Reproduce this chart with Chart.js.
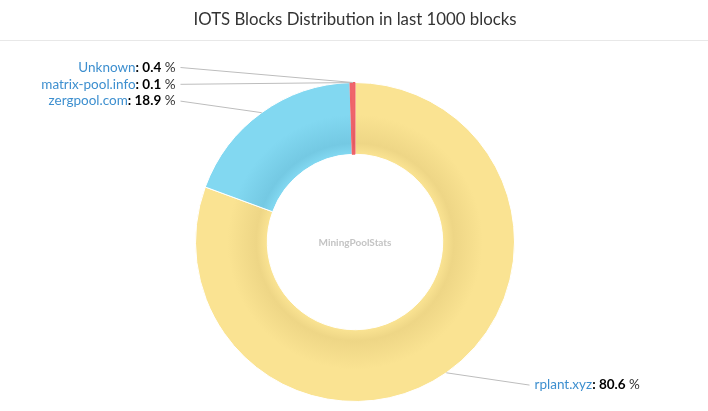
<!DOCTYPE html>
<html>
<head>
<meta charset="utf-8">
<script src="https://cdn.jsdelivr.net/npm/chart.js@4/dist/chart.umd.min.js"></script>
<style>
  html, body { margin: 0; padding: 0; background: #fff; }
  #box { width: 708px; height: 411px; position: relative; }
</style>
</head>
<body>
<div id="box"><canvas id="myChart"></canvas></div>
<script>
// data
const titleText = 'IOTS Blocks Distribution in last 1000 blocks';
const pools = ['rplant.xyz', 'zergpool.com', 'matrix-pool.info', 'Unknown'];
const shares = [80.6, 18.9, 0.1, 0.4];
const baseColors = ['#fae392', '#82d8f1', '#f0656b', '#f0656b'];
const shadeColors = ['#eed686', '#74c9e3', '#e05a60', '#e05a60'];
const edgeColors = ['#ffffff', '#ffffff', '#ee6168', '#ee6168'];

const FONT = 'Lato, "Source Sans Pro", sans-serif';
const CUT = 0.55;

function sliceFill(ctx) {
  const chart = ctx.chart;
  const a = chart.chartArea;
  const i = ctx.dataIndex;
  if (!a) return baseColors[i];
  const cx = (a.left + a.right) / 2, cy = (a.top + a.bottom) / 2;
  const R = Math.min(a.right - a.left, a.bottom - a.top) / 2;
  const g = chart.ctx.createRadialGradient(cx, cy, R * CUT, cx, cy, R);
  g.addColorStop(0, baseColors[i]);
  g.addColorStop(0.15, shadeColors[i]);
  g.addColorStop(0.55, baseColors[i]);
  g.addColorStop(1, baseColors[i]);
  return g;
}

// title, separator, watermark and the pie labels with leader lines
const decor = {
  id: 'decor',
  afterDraw(chart) {
    const c = chart.ctx;
    c.save();
    c.fillStyle = '#333';
    c.font = '16.8px ' + FONT;
    c.textAlign = 'center';
    c.textBaseline = 'middle';
    c.fillText(titleText, 355, 20);
    c.strokeStyle = '#e8e8e8';
    c.lineWidth = 1;
    c.beginPath();
    c.moveTo(0, 40.5);
    c.lineTo(chart.width, 40.5);
    c.stroke();

    const meta = chart.getDatasetMeta(0);
    const arc0 = meta.data[0];
    c.fillStyle = '#c4c4c4';
    c.font = 'bold 10px ' + FONT;
    c.fillText('MiningPoolStats', arc0.x, arc0.y + 1);

    const R = arc0.outerRadius;
    const items = meta.data.map((el, i) => {
      const mid = (el.startAngle + el.endAngle) / 2;
      const px = el.x + R * Math.cos(mid), py = el.y + R * Math.sin(mid);
      const right = Math.cos(mid) >= 0.01;
      const ly = el.y + (R + 15) * Math.sin(mid);
      const lx = el.x + (right ? 1 : -1) * (R + 15);
      return { i, px, py, lx, ly, right };
    });
    // stack the left labels downward so they don't overlap
    const left = items.filter(d => !d.right).sort((p, q) => p.ly - q.ly);
    for (let k = 1; k < left.length; k++) {
      left[k].ly = Math.max(left[k].ly, left[k - 1].ly + 16.8);
    }
    items.forEach(d => {
      c.strokeStyle = '#bdbdbd';
      c.lineWidth = 1;
      c.beginPath();
      c.moveTo(d.lx, d.ly);
      c.lineTo(d.px, d.py);
      c.stroke();
      const parts = [
        [pools[d.i], '13.5px ' + FONT, '#3d8fcf'],
        [': ', 'bold 13.5px ' + FONT, '#000'],
        [shares[d.i].toFixed(1), 'bold 13.5px ' + FONT, '#000'],
        [' %', '13.5px ' + FONT, '#333']
      ];
      let w = 0;
      parts.forEach(p => { c.font = p[1]; w += c.measureText(p[0]).width; });
      let x = d.right ? d.lx + 5 : d.lx - 5 - w;
      c.textAlign = 'left';
      parts.forEach(p => {
        c.font = p[1];
        c.fillStyle = p[2];
        c.fillText(p[0], x, d.ly);
        x += c.measureText(p[0]).width;
      });
    });
    c.restore();
  }
};

const config = {
  type: 'doughnut',
  data: {
    labels: pools,
    datasets: [{
      data: shares,
      backgroundColor: sliceFill,
      borderColor: edgeColors,
      borderWidth: 1
    }]
  },
  options: {
    responsive: true,
    maintainAspectRatio: false,
    animation: false,
    cutout: (CUT * 100) + '%',
    layout: { padding: { top: 82, bottom: 9, left: 195, right: 193 } },
    plugins: {
      legend: { display: false },
      title: { display: false },
      tooltip: { enabled: false }
    }
  },
  plugins: [decor]
};

new Chart(document.getElementById('myChart'), config);
</script>
</body>
</html>
